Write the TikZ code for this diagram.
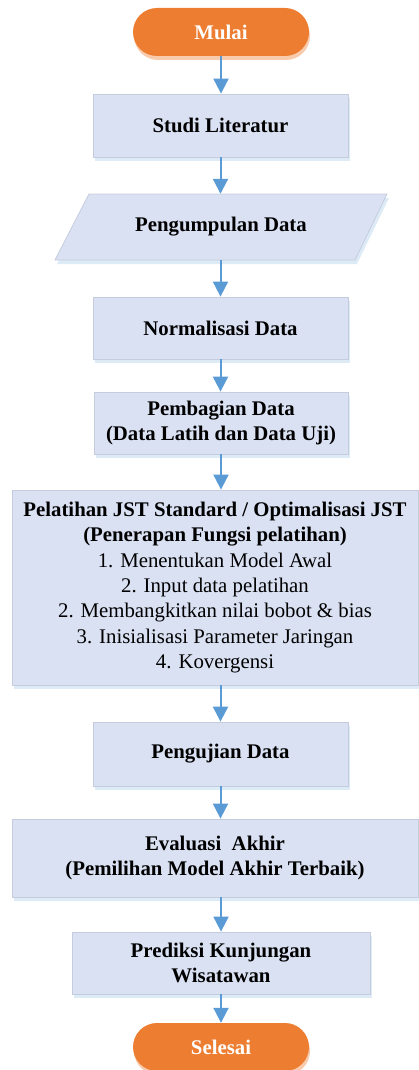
\documentclass[tikz,border=0pt]{standalone}
\usepackage{fontspec}
\setmainfont{Liberation Serif}
\usetikzlibrary{shapes.misc,arrows.meta,shadows}
\definecolor{orangeF}{HTML}{ED7D31}
\definecolor{orangeS}{HTML}{F8CBAD}
\definecolor{boxF}{HTML}{DAE1F3}
\definecolor{boxD}{HTML}{C5CCDD}
\definecolor{boxS}{HTML}{DDEBF7}
\definecolor{arrC}{HTML}{5B9BD5}
\begin{document}
\begin{tikzpicture}[x=1pt,y=-1pt,
  every node/.style={font=\fontsize{20.8}{25.3}\selectfont, inner sep=0pt, align=center},
  bf/.style={font=\fontsize{20.8}{25.3}\selectfont\bfseries},
  term/.style={rounded rectangle, fill=orangeF, draw=none, text=white, bf,
    minimum width=176pt, minimum height=48pt,
    drop shadow={shadow xshift=1pt, shadow yshift=-4pt, fill=orangeS, opacity=1}},
  procbox/.style={rectangle, fill=boxF, draw=boxD, line width=0.8pt,
    drop shadow={shadow xshift=2pt, shadow yshift=-4pt, fill=boxS, opacity=1}},
  ioshape/.style={fill=boxF, draw=boxD, line width=0.8pt},
  ioshadow/.style={fill=boxS, draw=none},
  arr/.style={draw=arrC, line width=2pt, -{Triangle[length=15pt,width=15pt]}, arrC}
]
\useasboundingbox (0,0) rectangle (419,1070);
\clip (0,0) rectangle (419,1070);

% parallelogram for data input
\coordinate (p1) at (89,194);
\coordinate (p2) at (387,194);
\coordinate (p3) at (355,260);
\coordinate (p4) at (55,260);
\fill[ioshadow] ([shift={(2pt,-4pt)}]p1) -- ([shift={(2pt,-4pt)}]p2) -- ([shift={(2pt,-4pt)}]p3) -- ([shift={(2pt,-4pt)}]p4) -- cycle;
\draw[ioshape] (p1) -- (p2) -- (p3) -- (p4) -- cycle;

\node[term] (mulai) at (221,32) {Mulai};
\node[procbox, bf, minimum width=255pt, minimum height=63pt] (studi) at (220.5,125.5) {Studi Literatur};
\node[bf, minimum width=298pt, minimum height=66pt] (kumpul) at (221,227) {Pengumpulan Data};
\node[procbox, bf, minimum width=255pt, minimum height=62pt] (norm) at (220.5,328) {Normalisasi Data};
\node[procbox, bf, minimum width=254pt, minimum height=62pt] (bagi) at (221,423) {Pembagian Data\\(Data Latih dan Data Uji)};
\node[procbox, minimum width=406pt, minimum height=195pt] (latih) at (215,587.5) {\textbf{Pelatihan JST Standard / Optimalisasi JST}\\\textbf{(Penerapan Fungsi pelatihan)}\\1. Menentukan Model Awal\\2. Input data pelatihan\\2. Membangkitkan nilai bobot \& bias\\3. Inisialisasi Parameter Jaringan\\4. Kovergensi};
\node[procbox, bf, minimum width=255pt, minimum height=64pt] (uji) at (220.5,754) {Pengujian Data};
\node[procbox, bf, minimum width=406pt, minimum height=78pt] (eval) at (215,858) {Evaluasi\ \ Akhir\\(Pemilihan Model Akhir Terbaik)};
\node[procbox, bf, minimum width=298pt, minimum height=62pt] (predik) at (221,963) {Prediksi Kunjungan\\Wisatawan};
\node[term] (selesai) at (221,1047) {Selesai};

\draw[arr] (mulai.south) -- (mulai.south |- studi.north);
\draw[arr] (studi.south) -- (studi.south |- kumpul.north);
\draw[arr] (norm.north |- kumpul.south) -- (norm.north);
\draw[arr] (norm.south) -- (norm.south |- bagi.north);
\draw[arr] (bagi.south) -- (bagi.south |- latih.north);
\draw[arr] (uji.north |- latih.south) -- (uji.north);
\draw[arr] (uji.south) -- (uji.south |- eval.north);
\draw[arr] (predik.north |- eval.south) -- (predik.north);
\draw[arr] (predik.south) -- (predik.south |- selesai.north);
\end{tikzpicture}
\end{document}
